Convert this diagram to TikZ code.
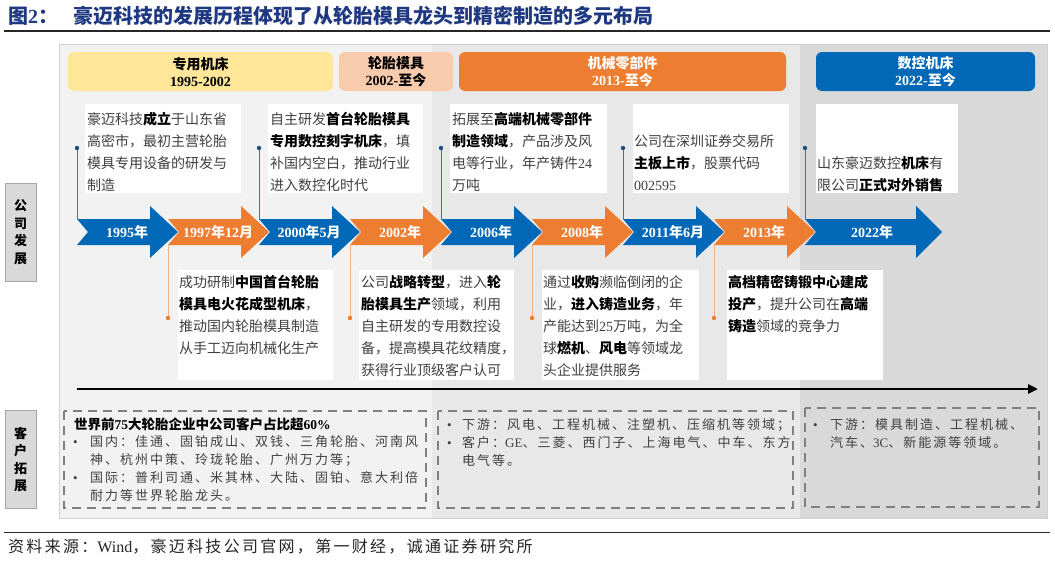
\documentclass[tikz,border=0pt]{standalone}
\usepackage{fontspec}
\setmainfont{Liberation Serif}
\newfontfamily\cjkfont{Noto Sans CJK SC}
\usetikzlibrary{arrows.meta}
\newXeTeXintercharclass\CJKcls
\newdimen\cjkextra \cjkextra=0pt
\makeatletter
\def\setcjkrange#1#2{\count@=#1\relax\loop\XeTeXcharclass\count@=\CJKcls\relax\ifnum\count@<#2\relax\advance\count@ by 1\relax\repeat}
\makeatother
\setcjkrange{"4E00}{"9FFF}
\setcjkrange{"3000}{"303F}
\setcjkrange{"FF00}{"FFEF}
\XeTeXinterchartoks 0 \CJKcls = {\cjkfont}
\XeTeXinterchartoks 4095 \CJKcls = {\cjkfont}
\XeTeXinterchartoks \CJKcls 0 = {\rmfamily}
\XeTeXinterchartoks 4095 0 = {\rmfamily}
\XeTeXinterchartoks \CJKcls \CJKcls = {\kern\cjkextra}
\newcommand\widecjk{\global\cjkextra=2pt\relax}
\newcommand\widercjk{\global\cjkextra=2.3pt\relax}
\newcommand\normcjk{\global\cjkextra=0pt\relax}
\definecolor{tblue}{RGB}{31,56,130}
\definecolor{pan1}{RGB}{242,242,242}
\definecolor{pan2}{RGB}{232,232,232}
\definecolor{pan3}{RGB}{217,217,217}
\definecolor{hyel}{RGB}{255,230,153}
\definecolor{hsal}{RGB}{248,203,173}
\definecolor{ora}{RGB}{237,125,49}
\definecolor{blu}{RGB}{0,104,183}
\definecolor{lineblue}{RGB}{65,113,156}
\definecolor{dotblue}{RGB}{31,78,121}
\definecolor{lineora}{RGB}{244,177,131}
\definecolor{txt}{RGB}{64,64,64}
\definecolor{dashc}{RGB}{128,128,128}
\newcommand\B[1]{{\bfseries\color{black}#1}}
\newcommand\chev[4]{%
  \fill[#2] (#1,219) -- ++(73,0) -- ++(0,-13) -- ++(28,26) -- ++(-28,26) -- ++(0,-13) -- ++(-73,0) -- ++(11,-13) -- cycle;
  \node[yrlab] (#3) at (#1+50,232) {#4};}
\begin{document}
\XeTeXinterchartokenstate=1
\begin{tikzpicture}[x=1pt,y=-1pt,
  evtext/.style={anchor=north west, inner sep=0pt, align=left, text=txt, font=\fontsize{14}{22}\selectfont},
  btext/.style={anchor=north west, inner sep=0pt, align=left, text=txt, font=\fontsize{13}{18}\selectfont},
  hdr/.style={rounded corners=6pt, inner sep=0pt, align=center, font=\bfseries\fontsize{14}{17}\selectfont},
  yrlab/.style={inner sep=0pt, text=white, font=\bfseries\fontsize{14}{17}\selectfont},
  lab/.style={draw=black!35, fill=pan3, inner sep=0pt, align=center, minimum width=31pt, minimum height=98pt, font=\bfseries\fontsize{13}{17.5}\selectfont},
  bline/.style={draw=lineblue, line width=0.8pt},
  oline/.style={draw=lineora, line width=0.8pt},
  dashbox/.style={draw=dashc, line width=2pt, dash pattern=on 9pt off 6pt},
  wbox/.style={fill=white}]
\fill[white] (0,0) rectangle (1055,562);
\useasboundingbox (0,0) rectangle (1055,562);
% title
\node[anchor=west, inner sep=0pt, text=tblue, font=\bfseries\fontsize{20}{24}\selectfont] (fig) at (8,16) {图2：};
\node[anchor=west, inner sep=0pt, text=tblue, font=\bfseries\fontsize{20}{24}\selectfont] (ttl) at (73,16) {豪迈科技的发展历程体现了从轮胎模具龙头到精密制造的多元布局};
\draw[line width=1.2pt, black!85] (4,31) -- (1050,31);
% panels
\fill[pan1] (59,44) rectangle (432,518);
\fill[pan2] (432,44) rectangle (800,518);
\fill[pan3] (800,44) rectangle (1047,518);
\draw[black!18, line width=0.8pt] (59,44) rectangle (1047,518);
% headers
\node[hdr, fill=hyel, minimum width=265pt, minimum height=39pt] (h1) at (200.5,71.5) {专用机床\\1995-2002};
\node[hdr, fill=hsal, minimum width=114pt, minimum height=39pt] (h2) at (396,71.5) {轮胎模具\\2002-至今};
\node[hdr, fill=ora, text=white, minimum width=327pt, minimum height=39pt] (h3) at (622.5,71.5) {机械零部件\\2013-至今};
\node[hdr, fill=blu, text=white, minimum width=219pt, minimum height=39pt] (h4) at (925.5,71.5) {数控机床\\2022-至今};
% left labels
\node[lab] (L1) at (20.5,232) {公\\司\\发\\展};
\node[lab] (L2) at (20.5,459.5) {客\\户\\拓\\展};
% white boxes
\fill[wbox] (85,104) rectangle (241,193);
\fill[wbox] (268,104) rectangle (423,193);
\fill[wbox] (450,104) rectangle (607,193);
\fill[wbox] (633,104) rectangle (789,193);
\fill[wbox] (816,104) rectangle (958,193);
\fill[wbox] (178,270) rectangle (333,380);
\fill[wbox] (359,270) rectangle (514,380);
\fill[wbox] (542,270) rectangle (699,380);
\fill[wbox] (727,270) rectangle (883,380);
% arrows
\chev{77}{blu}{a1}{1995年}
\chev{168}{ora}{a2}{1997年12月}
\chev{259}{blu}{a3}{2000年5月}
\chev{350}{ora}{a4}{2002年}
\chev{441}{blu}{a5}{2006年}
\chev{532}{ora}{a6}{2008年}
\chev{623}{blu}{a7}{2011年6月}
\chev{714}{ora}{a8}{2013年}
\fill[blu] (805,219) -- (916,219) -- (916,206) -- (942,232) -- (916,258) -- (916,245) -- (805,245) -- (816,232) -- cycle;
\node[yrlab] (a9) at (872,232) {2022年};
% connectors above
\foreach \n/\x in {1/77,3/259,5/441,7/623,9/805}{
  \coordinate (t\n) at (\x,219);
  \coordinate (d\n) at (\x,148);
  \draw[bline] (t\n) -- (d\n);
  \fill[dotblue] (d\n) circle (2.2);
}
% connectors below
\foreach \n/\x in {2/168,4/350,6/532,8/714}{
  \coordinate (t\n) at (\x,245);
  \coordinate (d\n) at (\x,318);
  \draw[oline] (t\n) -- (d\n);
  \fill[ora] (d\n) circle (2.2);
}
% event texts above
\node[evtext] (e1) at (87,112.4) {豪迈科技\B{成立}于山东省\\高密市，最初主营轮胎\\模具专用设备的研发与\\制造};
\node[evtext] (e3) at (270,112.4) {自主研发\B{首台轮胎模具}\\\B{专用数控刻字机床}，填\\补国内空白，推动行业\\进入数控化时代};
\node[evtext] (e5) at (452,112.4) {拓展至\B{高端机械零部件}\\\B{制造领域}，产品涉及风\\电等行业，年产铸件24\\万吨};
\node[evtext] (e7) at (634,134.4) {公司在深圳证券交易所\\\B{主板上市}，股票代码\\002595};
\node[evtext] (e9) at (817,156.4) {山东豪迈数控\B{机床}有\\限公司\B{正式对外销售}};
% event texts below
\node[evtext] (e2) at (179,275) {成功研制\B{中国首台轮胎}\\\B{模具电火花成型机床}，\\推动国内轮胎模具制造\\从手工迈向机械化生产};
\node[evtext] (e4) at (361,275) {公司\B{战略转型}，进入\B{轮}\\\B{胎模具生产}领域，利用\\自主研发的专用数控设\\备，提高模具花纹精度，\\获得行业顶级客户认可};
\node[evtext] (e6) at (543,275) {通过\B{收购}濒临倒闭的企\\业，\B{进入铸造业务}，年\\产能达到25万吨，为全\\球\B{燃机}、\B{风电}等领域龙\\头企业提供服务};
\node[evtext] (e8) at (728,275) {\B{高档精密铸锻中心建成}\\\B{投产}，提升公司在\B{高端}\\\B{铸造}领域的竞争力};
% long timeline arrow
\coordinate (ls) at (77,389);
\coordinate (le) at (1038,389);
\draw[line width=2.6pt, -{Triangle[length=10pt,width=9pt]}] (ls) -- (le);
% dashed boxes
\draw[dashbox] (64,411) rectangle (426,508);
\draw[dashbox] (438,411) rectangle (793,508);
\draw[dashbox] (805,408) rectangle (1039,507);
\node[anchor=north west, inner sep=0pt, font=\bfseries\fontsize{13.5}{18}\selectfont] (ca) at (74,417.7) {世界前75大轮胎企业中公司客户占比超60\%};
\widecjk
\node[btext] (cb) at (73,434.9) {\makebox[17pt][l]{•}国内：佳通、固铂成山、双钱、三角轮胎、河南风\\\hspace*{17pt}神、杭州中策、玲珑轮胎、广州万力等；\\\makebox[17pt][l]{•}国际：普利司通、米其林、大陆、固铂、意大利倍\\\hspace*{17pt}耐力等世界轮胎龙头。};
\node[btext] (cc) at (447,417.9) {\makebox[15pt][l]{•}下游：风电、工程机械、注塑机、压缩机等领域；\\\makebox[15pt][l]{•}客户：GE、三菱、西门子、上海电气、中车、东方\\\hspace*{15pt}电气等。};
\node[btext] (cd) at (813,417.9) {\makebox[17pt][l]{•}下游：模具制造、工程机械、\\\hspace*{17pt}汽车、3C、新能源等领域。};
% footer
\draw[line width=1pt, black!85] (4,532) -- (1050,532);
\widercjk
\node[anchor=west, inner sep=0pt, text=black!85, font=\fontsize{16}{18}\selectfont] (src) at (8,547) {资料来源：Wind，豪迈科技公司官网，第一财经，诚通证券研究所};
\normcjk
\end{tikzpicture}
\end{document}
